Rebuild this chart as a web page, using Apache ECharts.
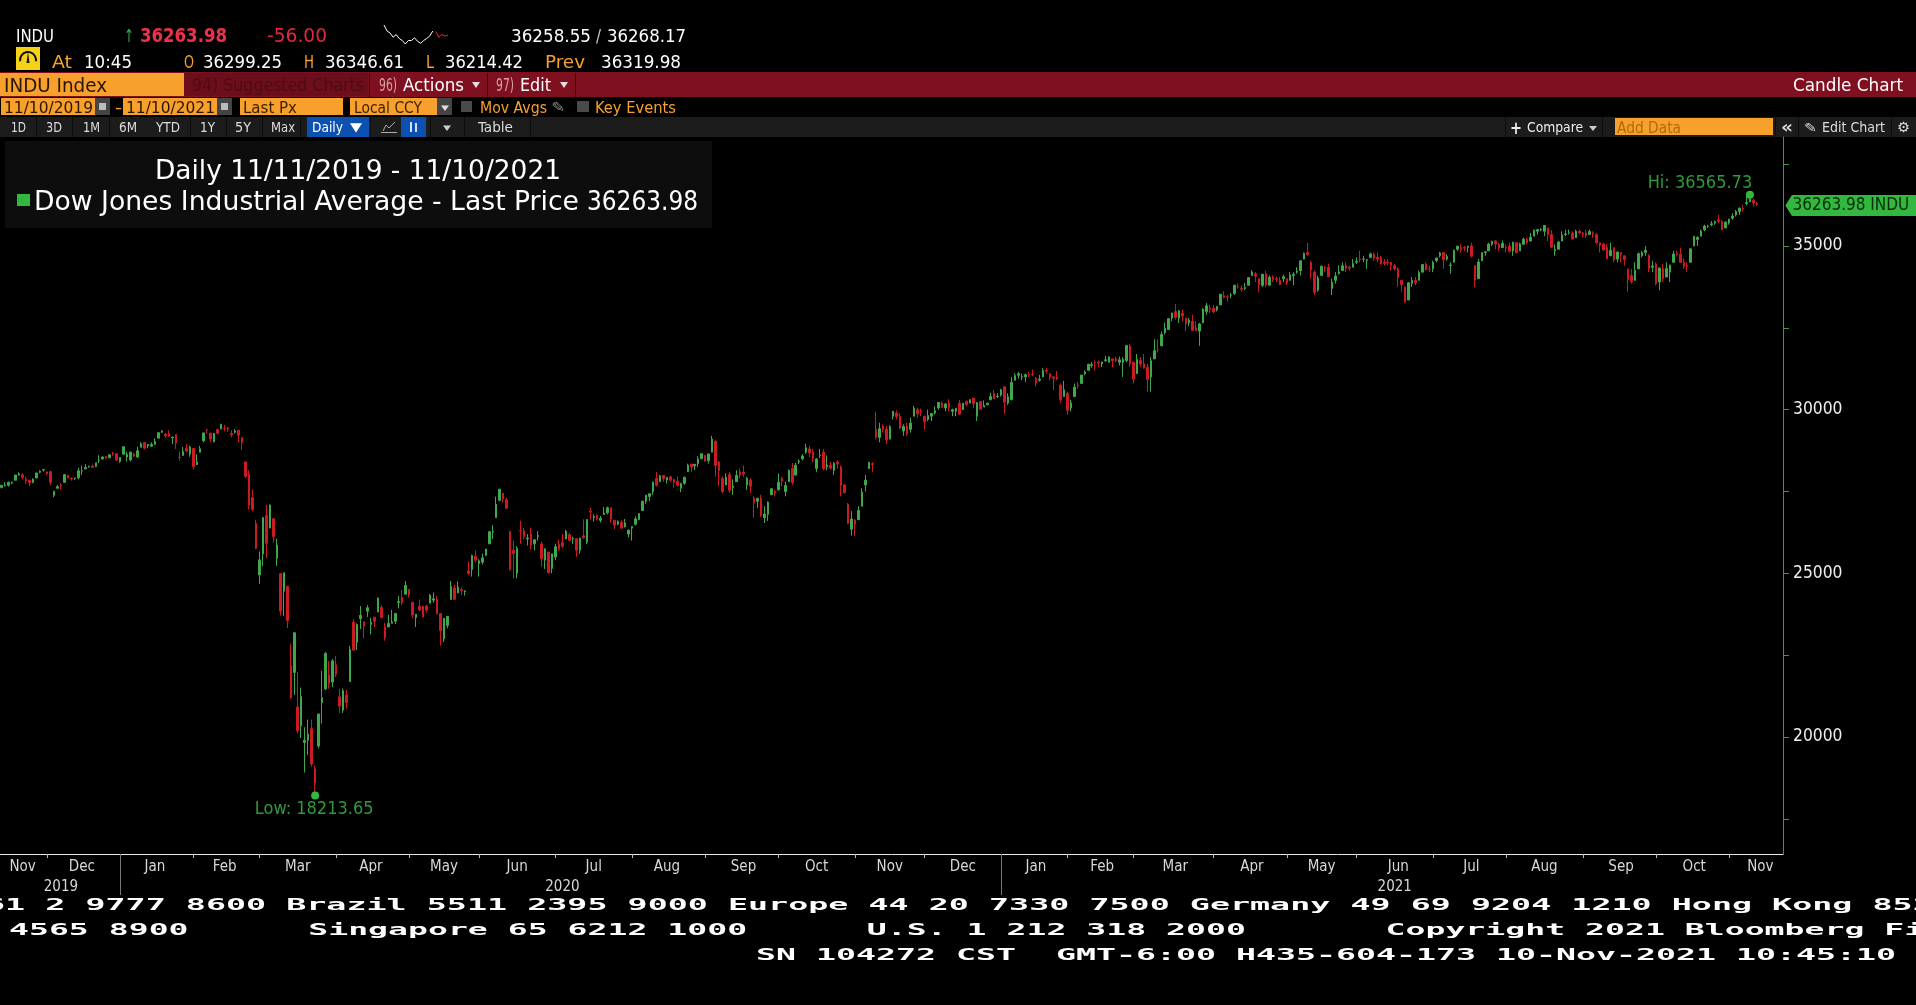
<!DOCTYPE html>
<html><head><meta charset="utf-8">
<style>html,body{margin:0;padding:0;background:#000;overflow:hidden}#c{width:1916px;height:1005px}</style>
<script src="https://cdn.jsdelivr.net/npm/echarts@6/dist/echarts.min.js"></script>
</head><body><div id="c"></div>
<script>
// Daily candles, each row [open, close, low, high]
const nov19=[[27623,27691,27590,27695],[27677,27691,27652,27790],[27692,27783,27650,27800],[27757,27782,27718,27800],[27843,28005,27843,28005],[28000,28036,27990,28090],[28011,27934,27875,28060],[27878,27821,27730,27950],[27843,27766,27672,27860],[27780,27876,27750,27900],[27912,28066,27912,28070],[28084,28121,28060,28145],[28154,28164,28100,28175],[28099,28051,28010,28110]];
const dec19=[[28109,27783,27690,28110],[27384,27502,27325,27520],[27600,27650,27570,27700],[27700,27678,27560,27750],[27780,28015,27780,28030],[27999,27909,27900,28000],[27900,27881,27830,27930],[27900,27911,27850,27930],[27920,28132,27870,28225],[28130,28135,28000,28290],[28191,28235,28191,28337],[28250,28267,28230,28291],[28280,28239,28230,28320],[28260,28377,28260,28377],[28450,28455,28370,28608],[28491,28551,28491,28583],[28572,28515,28500,28576],[28530,28621,28530,28625],[28675,28645,28590,28701],[28654,28462,28420,28665],[28414,28538,28377,28547]];
const jan20=[[28639,28868,28627,28872],[28553,28634,28418,28718],[28465,28703,28420,28709],[28640,28583,28549,28686],[28556,28745,28523,28866],[28851,28957,28851,29010],[29000,28824,28783,29009],[28890,28940,28820,28940],[28885,28940,28860,29000],[28940,29030,28920,29127],[29130,29297,29130,29300],[29313,29348,29290,29374],[29245,29196,29138,29290],[29263,29186,29170,29373],[29141,29160,28950,29175],[29240,28990,28800,29245],[28542,28536,28440,28723],[28600,28723,28596,28860],[28820,28734,28700,28944],[28640,28859,28560,28896],[28813,28256,28170,28813]];
const feb20=[[28319,28399,28319,28630],[28696,28807,28696,28893],[29049,29290,29000,29298],[29389,29379,29273,29408],[29286,29102,29000,29286],[29019,29276,29000,29278],[29390,29276,29248,29416],[29406,29551,29406,29568],[29435,29423,29338,29535],[29440,29398,29315,29463],[29279,29232,29152,29371],[29306,29348,29270,29409],[29369,29219,29000,29377],[29146,28992,28768,29146],[28403,27961,27912,28402],[28023,27081,26958,28149],[27311,26957,26890,27569],[26526,25766,25739,26638],[24950,25409,24681,25670]];
const mar20=[[25591,26703,25219,26706],[26763,25917,25466,27084],[26383,27091,26383,27102],[26671,26121,25943,26671],[25457,25865,25226,26057],[24992,23851,23707,24992],[24453,25018,23691,25020],[24604,23553,23328,24604],[22184,21200,21154,22837],[21973,23186,21285,23189],[20917,20189,20116,21989],[20345,21237,19969,21512],[19830,19899,18917,20300],[19899,20087,19449,20531],[20253,19174,19094,20531],[19029,18592,18213.65,19122],[19722,20705,19650,20705],[21050,21200,20410,22020],[21468,22552,21440,22596],[21898,21637,21470,22327],[21678,22327,21523,22378],[22208,21917,21832,22480]];
const apr20=[[21228,20944,20736,21470],[20820,21413,20735,21477],[21285,21053,20863,21447],[21693,22680,21693,22783],[23512,22654,22634,23603],[22894,23434,22657,23473],[23618,23719,23299,24000],[23520,23391,23018,23520],[23845,23950,23667,24028],[23438,23505,23137,23640],[23662,23538,23358,23662],[23817,24242,23817,24265],[23958,23650,23625,24030],[23361,23019,22941,23489],[23363,23475,23363,23729],[23475,23516,23467,23887],[23536,23775,23450,23775],[24100,24134,23930,24303],[24264,24101,24033,24500],[24360,24634,24360,24765],[24508,24346,24260,24508]];
const may20=[[24120,23724,23645,24120],[23650,23750,23361,23751],[23993,23883,23840,24200],[23991,23664,23660,24016],[23999,23875,23800,24035],[24090,24331,24090,24370],[24180,24221,24100,24420],[24210,23764,23760,24315],[23770,23248,22789,23790],[23000,23625,22900,23630],[23410,23685,23320,23690],[24200,24597,24200,24765],[24550,24206,24180,24653],[24400,24575,24400,24750],[24500,24474,24340,24570],[24440,24465,24320,24480],[25070,24995,24950,25370],[25120,25548,24900,25570],[25520,25401,25330,25700],[25300,25383,24900,25430]];
const jun20=[[25340,25475,25270,25600],[25550,25742,25540,25750],[25900,26270,25900,26300],[26260,26282,26050,26470],[26700,27111,26700,27340],[27230,27572,27200,27580],[27450,27272,27160,27450],[27250,26990,26960,27320],[26280,25128,25080,26280],[25700,25606,24850,26000],[25000,25763,24850,25830],[26300,26290,25900,26610],[26300,26120,26030,26380],[26050,26080,25850,26200],[26200,25871,25730,26400],[25900,26025,25700,26040],[26120,26156,26000,26290],[25900,25445,25200,25970],[25400,25745,25130,25770],[25650,25016,24990,25650],[25150,25596,25000,25600],[25500,25813,25400,25905]];
const jul20=[[25880,25734,25680,26020],[25950,25827,25770,26200],[26050,26287,26050,26330],[26180,26007,26000,26240],[26050,26067,25900,26120],[26060,25706,25500,26080],[25700,26075,25600,26090],[26150,26086,26050,26650],[25950,26643,25890,26650],[26900,26870,26640,27000],[26700,26735,26580,26800],[26770,26672,26620,26800],[26620,26681,26550,26750],[26800,26840,26780,27030],[26850,27005,26800,27040],[27000,26652,26540,27010],[26620,26470,26350,26620],[26500,26585,26470,26620],[26560,26379,26370,26620],[26420,26539,26400,26660],[26200,26313,26100,26350],[26380,26428,26000,26440]];
const aug20=[[26500,26664,26460,26740],[26640,26828,26640,26830],[26920,27201,26920,27220],[27200,27387,27120,27400],[27350,27433,27200,27440],[27500,27791,27400,27800],[27900,27687,27650,28100],[27800,27977,27800,28000],[27990,27896,27800,28000],[27850,27931,27750,27940],[27950,27844,27800,27970],[27870,27778,27620,27880],[27810,27692,27650,27960],[27600,27739,27480,27770],[27750,27930,27700,27960],[28100,28308,28100,28350],[28340,28248,28100,28340],[28280,28331,28150,28340],[28350,28492,28250,28580],[28500,28654,28500,28660],[28600,28430,28410,28620]];
const sep20=[[28440,28646,28350,28660],[28700,29100,28700,29200],[29040,28293,27950,29060],[28400,28133,27660,28430],[27900,27501,27450,27950],[27700,27940,27700,28060],[28020,27535,27460,28100],[27620,27666,27400,27870],[27800,27994,27800,28150],[28100,27996,27900,28200],[28080,28033,27950,28290],[27700,27902,27550,27950],[27850,27657,27450,27900],[27300,27148,26700,27350],[27200,27289,27000,27310],[27300,26763,26720,27400],[26700,26815,26540,27050],[26800,27174,26600,27200],[27400,27584,27400,27600],[27500,27453,27350,27560],[27550,27782,27530,28050]];
const oct20=[[27900,27817,27650,27950],[27500,27683,27350,27800],[27800,28149,27800,28170],[28200,27773,27700,28370],[28000,28304,28000,28370],[28400,28426,28340,28480],[28500,28587,28450,28640],[28700,28838,28650,28960],[28800,28680,28550,28900],[28700,28514,28400,28800],[28200,28494,28100,28520],[28600,28607,28520,28800],[28700,28196,28150,28800],[28250,28309,28150,28600],[28300,28211,28170,28400],[28150,28364,28000,28400],[28400,28336,28200,28450],[28250,27686,27350,28300],[27700,27463,27430,27730],[27100,26520,26500,27150],[26350,26660,26150,26900],[26630,26502,26143,26650]];
const nov20=[[26640,26925,26640,27050],[27050,27481,27050,27600],[27700,27848,27500,28000],[28200,28390,28200,28400],[28350,28323,28100,28400],[29400,29158,29100,29933],[29150,29421,29000,29600],[29500,29398,29300,29550],[29400,29080,28950,29500],[29100,29480,29100,29530],[29800,29950,29700,29960],[29900,29784,29700,29980],[29800,29438,29400,29900],[29350,29483,29200,29550],[29500,29263,29200,29600],[29400,29591,29300,29750],[29800,30046,29800,30116],[30000,29872,29750,30060],[29950,29910,29800,30030],[29800,29639,29400,29800]];
const dec20=[[29700,29823,29650,30000],[29800,29883,29650,29900],[29900,29969,29850,30100],[30050,30218,30000,30220],[30200,30070,30050,30250],[30050,30174,29950,30200],[30200,30068,29950,30320],[29950,29999,29800,30030],[29950,30046,29800,30050],[30200,29861,29850,30300],[30000,30199,30000,30200],[30250,30154,30100,30280],[30200,30303,30200,30320],[30350,30179,30050,30350],[29800,30216,29650,30230],[30250,30015,30000,30260],[30080,30129,30080,30280],[30150,30199,30130,30210],[30300,30403,30300,30520],[30500,30335,30320,30600],[30400,30409,30350,30500],[30450,30606,30400,30640]];
const jan21=[[30700,30223,29880,30700],[30200,30392,30150,30500],[30300,30829,30300,31000],[30900,31041,30900,31110],[31050,31098,30950,31150],[31000,31009,30900,31100],[31000,31068,30850,31100],[31080,31061,31000,31150],[31080,31060,31020,31220],[30950,30814,30700,31000],[30900,30930,30850,31060],[31000,31188,31000,31270],[31200,31176,31100,31280],[31100,30997,30900,31100],[31000,30960,30600,31030],[31000,30937,30900,31180],[30750,30303,30200,30800],[30400,30603,30400,30880],[30500,29983,29850,30550]];
const feb21=[[30050,30212,29950,30300],[30400,30688,30400,30800],[30750,30724,30650,30850],[30800,31056,30800,31060],[31100,31148,31050,31200],[31200,31386,31180,31400],[31350,31375,31280,31450],[31450,31438,31200,31500],[31450,31431,31300,31500],[31400,31458,31300,31460],[31500,31523,31450,31640],[31450,31613,31450,31620],[31550,31494,31300,31560],[31550,31494,31450,31620],[31450,31522,31350,31620],[31450,31537,31000,31600],[31500,31961,31450,31980],[31950,31402,31300,32010],[31450,30932,30800,31450]];
const mar21=[[31100,31535,31100,31700],[31500,31391,31300,31600],[31400,31270,31250,31700],[31300,30924,30550,31400],[31000,31496,30550,31600],[31550,31802,31550,32150],[31850,31833,31750,32150],[31950,32297,31950,32390],[32350,32486,32300,32660],[32450,32779,32450,32800],[32800,32953,32700,32960],[33000,32825,32750,33230],[32800,33015,32650,33050],[32950,32862,32700,33050],[32800,32628,32400,32800],[32650,32731,32550,32800],[32700,32423,32400,32900],[32500,32420,32400,32700],[32400,32619,31950,32650],[32650,33072,32650,33100],[33000,33171,32900,33260],[33100,33067,32950,33200],[33100,32982,32950,33200]];
const apr21=[[33050,33153,33000,33170],[33200,33527,33200,33530],[33480,33430,33400,33620],[33450,33446,33300,33500],[33500,33503,33400,33560],[33550,33801,33500,33810],[33750,33746,33700,33850],[33700,33677,33600,33800],[33700,33730,33650,33870],[33800,34036,33800,34040],[34100,34201,34100,34260],[34150,34078,33900,34200],[34000,33821,33600,34000],[33800,34137,33750,34140],[34150,33815,33750,34250],[33800,34043,33800,34100],[34050,33981,33900,34100],[34000,33984,33900,34070],[33950,33820,33800,34050],[34000,34060,33900,34120],[34000,33875,33800,34000]];
const may21=[[33950,34113,33950,34200],[34100,34133,33800,34200],[34200,34230,34150,34350],[34250,34548,34100,34550],[34600,34778,34600,34800],[34800,34743,34700,35091],[34500,34269,34000,34550],[34200,33587,33500,34250],[33650,34022,33600,34100],[34100,34382,34100,34400],[34350,34327,34200,34400],[34350,34060,34050,34450],[33700,33896,33500,34000],[33950,34084,33850,34200],[34150,34208,34130,34400],[34250,34394,34250,34500],[34400,34312,34200,34500],[34350,34323,34250,34400],[34350,34465,34350,34600],[34500,34529,34450,34650]];
const jun21=[[34600,34575,34500,34850],[34600,34600,34500,34700],[34550,34577,34300,34600],[34650,34756,34650,34800],[34750,34630,34550,34800],[34650,34600,34500,34800],[34650,34447,34430,34700],[34500,34466,34400,34600],[34500,34480,34400,34600],[34500,34394,34250,34500],[34400,34300,34250,34450],[34300,34033,33750,34350],[33950,33823,33600,33950],[33750,33290,33270,33750],[33350,33877,33350,33900],[33850,33945,33750,34050],[33950,33874,33800,34050],[33950,34196,33950,34250],[34200,34433,34200,34450],[34450,34283,34250,34500],[34300,34292,34200,34400],[34300,34503,34200,34550]];
const jul21=[[34550,34633,34500,34650],[34700,34786,34650,34820],[34800,34577,34300,34800],[34600,34681,34550,34750],[34400,34422,34150,34500],[34500,34870,34500,34890],[34900,34996,34850,35000],[34950,34889,34800,35050],[34950,34933,34850,35000],[34950,34987,34800,35010],[35000,34688,34650,35100],[34400,33962,33740,34400],[34000,34512,34000,34600],[34550,34798,34550,34800],[34800,34823,34700,34850],[34850,35061,34850,35100],[35050,35144,35000,35150],[35150,35058,34900,35180],[35050,34930,34850,35100],[34950,35085,34950,35170],[34950,34935,34800,35050]];
const aug21=[[35000,34838,34800,35100],[34850,35116,34700,35130],[35100,34793,34780,35100],[34850,35064,34850,35100],[35050,35209,35050,35250],[35200,35102,35050,35250],[35150,35265,35150,35400],[35300,35484,35300,35500],[35450,35500,35350,35520],[35500,35516,35450,35540],[35450,35625,35300,35630],[35550,35343,35150,35550],[35350,34961,34950,35480],[34850,34894,34700,35050],[34900,35120,34900,35150],[35150,35336,35150,35450],[35350,35367,35300,35500],[35400,35405,35350,35500],[35400,35213,35200,35450],[35250,35456,35250,35500],[35450,35400,35350,35500],[35400,35361,35250,35420]];
const sep21=[[35400,35313,35250,35500],[35350,35444,35350,35500],[35400,35369,35250,35450],[35350,35100,35050,35400],[35100,35031,34800,35100],[35050,34879,34850,35100],[34950,34607,34600,35050],[34700,34870,34700,35100],[34950,34578,34500,34950],[34600,34814,34500,34830],[34800,34751,34500,34800],[34700,34584,34400,34700],[34300,33970,33600,34300],[34100,33919,33850,34300],[33950,34258,33950,34500],[34300,34765,34300,34800],[34700,34798,34650,34850],[34800,34870,34700,35000],[34700,34299,34200,34750],[34350,34390,34200,34550],[34450,33844,33800,34500]];
const oct21=[[33900,34326,33650,34350],[34300,34003,33900,34450],[34050,34315,34050,34500],[34200,34417,33900,34430],[34500,34755,34500,34850],[34780,34746,34680,34850],[34750,34496,34480,34950],[34500,34378,34300,34620],[34400,34377,34200,34500],[34500,34912,34500,34930],[35000,35295,35000,35300],[35200,35258,35000,35300],[35300,35457,35300,35500],[35500,35610,35450,35650],[35600,35603,35550,35650],[35650,35677,35600,35760],[35700,35741,35650,35780],[35800,35757,35700,35950],[35750,35491,35480,35800],[35550,35731,35550,35750],[35700,35820,35650,35830]];
const nov21=[[35850,35913,35800,36000],[35950,36053,35900,36100],[36050,36158,35950,36170],[36150,36125,36050,36250],[36300,36328,36250,36500],[36350,36432,36350,36565.73],[36400,36320,36200,36450],[36299.25,36263.98,36214.42,36346.61]];

const monthRows=[nov19,dec19,jan20,feb20,mar20,apr20,may20,jun20,jul20,aug20,sep20,oct20,nov20,dec20,jan21,feb21,mar21,apr21,may21,jun21,jul21,aug21,sep21,oct21,nov21];
const monthNames=['Nov','Dec','Jan','Feb','Mar','Apr','May','Jun','Jul','Aug','Sep','Oct','Nov','Dec','Jan','Feb','Mar','Apr','May','Jun','Jul','Aug','Sep','Oct','Nov'];
const monthLabelDay=[6,9,9,8,10,9,9,10,10,9,10,10,9,10,9,9,11,10,9,11,10,10,10,10,8];
const yearTexts=['2019','2020','2021'];
const yearLabelIndex=[17,161,400];
const yearStartIndex=[34,287];
const lastPrice=36263.98, hiPrice=36565.73, loPrice=18213.65;
const yLabelValues=[20000,25000,30000,35000];
const yTickValues=[17500,20000,22500,25000,27500,30000,32500,35000,37500];
const sparkWhite=[36346,36304,36290,36261,36280,36252,36238,36214,36238,36238,36257,36233,36219,36238,36252,36269,36304];
const sparkRed=[36300,36261,36280,36269,36276];

const candles=[], cats=[], monthStart=new Set(), labelIdx=new Map();
monthRows.forEach((rows,m)=>{
  if(m>0) monthStart.add(candles.length-1);
  labelIdx.set(candles.length+monthLabelDay[m], monthNames[m]);
  rows.forEach((r,d)=>{candles.push(r);cats.push(monthNames[m]+'-'+m+'-'+d);});
});
const lastIdx=candles.length-1;
const hiIdx=candles.findIndex(r=>r[3]===hiPrice), loIdx=candles.findIndex(r=>r[2]===loPrice);
for(let i=0;i<7;i++) cats.push('pad-'+i);

const FONT='"DejaVu Sans Condensed","DejaVu Sans"';
const MONO='"DejaVu Sans Mono"';
const GREEN='#33b83f', LABELGREEN='#2f9a3c', UP='#3fa84a', DOWN='#cc1a22';
const ORANGE='#f7a02c', BAND='#7f1020', ROW='#1c1c1c';

const mc=document.createElement('canvas').getContext('2d');
const els=[];
function rect(x,y,w,h,fill){els.push({type:'rect',shape:{x,y,width:w,height:h},style:{fill},silent:true});}
function t(s,x0,x1,yc,size,fill,font,weight){
  font=font||FONT;
  const f=(weight?weight+' ':'')+size+'px '+font;
  mc.font=f;
  const sx=x1==null?1:(x1-x0)/mc.measureText(s).width;
  els.push({type:'text',x:x0,y:yc+size*0.11,scaleX:sx,silent:true,style:{text:s,font:f,fill,textAlign:'left',textVerticalAlign:'middle'}});
}
function poly(points,fill,stroke){els.push({type:stroke?'polyline':'polygon',shape:{points},style:stroke?{stroke,fill:null,lineWidth:1}:{fill},silent:true});}

// header row 1
t('INDU',16,54,35,18,'#fff');
t('↑',124,134,35,18,'#38a845');
t('36263.98',140,227,35,19,'#f0304a',null,'bold');
t('-56.00',267,327,35,19,'#e0283f');
t('36258.55',511,591,35,18,'#fff');
t('/',596,601,35,18,'#ccc');
t('36268.17',607,686,35,18,'#fff');
// header row 2
rect(16,47,24,23,'#f5d215');
els.push({type:'arc',shape:{cx:28,cy:60,r:8,startAngle:Math.PI*0.95,endAngle:Math.PI*0.05,clockwise:true},style:{stroke:'#111',fill:null,lineWidth:2},silent:true});
poly([[28,52],[29.5,63],[26.5,63]],'#111');
t('At',52,72,61,18,ORANGE);
t('10:45',84,132,61,18,'#fff');
t('O',184,194,61,18,ORANGE);
t('36299.25',203,282,61,18,'#fff');
t('H',304,314,61,18,ORANGE);
t('36346.61',325,404,61,18,'#fff');
t('L',426,434,61,18,ORANGE);
t('36214.42',445,523,61,18,'#fff');
t('Prev',545,585,61,18,ORANGE);
t('36319.98',601,681,61,18,'#fff');
// header row 3
rect(0,72,1916,25,BAND);
rect(0,73,184,23,ORANGE);
t('INDU Index',4,107,85,19,'#2a1500');
rect(184,73,184,23,'#6c0e1b');
t('94) Suggested Charts',192,364,84,18,'#4d0c16');
rect(369,73,1,24,'#3a060d');rect(487,73,1,24,'#3a060d');rect(575,73,1,24,'#3a060d');
t('96)',379,397,84,18,'#d6a0a8');
t('Actions',403,464,84,18,'#fff');
t('▾',472,480,84,12,'#ddd');
t('97)',496,514,84,18,'#d6a0a8');
t('Edit',520,551,84,18,'#fff');
t('▾',560,568,84,12,'#ddd');
t('Candle Chart',1793,1903,84,18,'#fff');
// header row 4
rect(1,98,94,17,ORANGE);
t('11/10/2019',4,93,107,15,'#2a1500');
rect(95,98,15,17,'#444');rect(99,103,7,7,'#bbb');
t('-',115,122,107,15,ORANGE);
rect(123,98,94,17,ORANGE);
t('11/10/2021',126,215,107,15,'#2a1500');
rect(217,98,15,17,'#444');rect(221,103,7,7,'#bbb');
rect(240,98,103,17,ORANGE);
t('Last Px',243,297,107,15,'#3a1d00');
rect(350,98,87,17,ORANGE);
t('Local CCY',354,422,107,15,'#3a1d00');
rect(437,98,15,17,'#444');t('▾',441,449,107,11,'#ddd');
rect(461,101,11,11,'#4a4a4a');
t('Mov Avgs',480,547,107,15,ORANGE);
t('✎',551,565,107,14,'#888');
rect(577,101,12,11,'#4a4a4a');
t('Key Events',595,676,107,15,ORANGE);
// header row 5
rect(0,117,1916,20,ROW);
[['1D',11,26],['3D',46,62],['1M',83,100],['6M',119,137],['YTD',156,180],['1Y',200,215],['5Y',235,251],['Max',271,295]].forEach(a=>t(a[0],a[1],a[2],127,14,'#ddd'));
[36,72,109,190,226,262,300,370,430,464,530].forEach(x=>rect(x,117,1,20,'#0d0d0d'));
rect(307,117,62,20,'#0c50b0');
t('Daily',312,343,127,14.5,'#fff');
t('▼',350,362,127,12,'#fff');
poly([[383,131],[386,125],[389,128],[395,122]],null,'#aaa');
rect(381,132,16,1,'#aaa');
rect(401,117,25,20,'#0c50b0');
rect(410,122,2,10,'#cfe0ff');rect(415,123,2,9,'#cfe0ff');
t('▾',443,451,127,11,'#ccc');
t('Table',478,513,127,14.5,'#ddd');
rect(1505,117,1,20,'#0d0d0d');rect(1602,117,1,20,'#0d0d0d');
t('+',1510,1522,127,18,'#eee',null,'bold');
t('Compare',1527,1583,127,14,'#eee');
t('▾',1589,1597,127,10,'#ccc');
rect(1615,118,158,17,ORANGE);
t('Add Data',1617,1681,127,15,'#b06a10');
t('«',1781,1793,126,18,'#ddd',null,'bold');
rect(1775,117,1,20,'#0d0d0d');rect(1798,117,1,20,'#0d0d0d');rect(1891,117,1,20,'#0d0d0d');
t('✎',1804,1817,127,13,'#ddd');
t('Edit Chart',1822,1885,127,14,'#ddd');
t('⚙',1897,1910,127,14,'#ddd');
// legend box
rect(5,141,707,87,'#0d0d0d');
t('Daily 11/11/2019 - 11/10/2021',155,561,169,27,'#fff');
rect(17,194,13,12,GREEN);
t('Dow Jones Industrial Average - Last Price',34,579,200,27,'#fff');
t('36263.98',587,698,200,27,'#fff');
// contact lines at the bottom
const contact=[
 ['61 2 9777 8600 Brazil 5511 2395 9000 Europe 44 20 7330 7500 Germany 49 69 9204 1210 Hong Kong 852',-15,904,20.08],
 ['4565 8900      Singapore 65 6212 1000      U.S. 1 212 318 2000       Copyright 2021 Bloomberg Finance L.P.',9,929,19.95],
 ['SN 104272 CST  GMT-6:00 H435-604-173 10-Nov-2021 10:45:10',756,954,20.0]];
contact.forEach(c=>t(c[0],c[1],c[1]+c[0].length*c[3],c[2],16.5,'#fff',MONO,'bold'));

const sparkCats=sparkWhite.concat(sparkRed).map((_,i)=>'s'+i);
const nulls=n=>new Array(n).fill(null);

const chart=echarts.init(document.getElementById('c'),null,{renderer:'canvas'});
chart.setOption({
  animation:false,backgroundColor:'#000',
  grid:[
    {left:-3.5,top:137,width:1786.5,height:717,containLabel:false},
    {left:384,top:25,width:64,height:19}
  ],
  xAxis:[
    {type:'category',gridIndex:0,data:cats,position:'bottom',boundaryGap:true,
     axisLine:{show:true,lineStyle:{color:'#e8e8e8',width:1}},
     axisTick:{show:true,alignWithLabel:true,length:4,lineStyle:{color:'#bbb'},interval:i=>monthStart.has(i)},
     axisLabel:{show:true,interval:i=>labelIdx.has(i),formatter:(v,i)=>labelIdx.get(i)||'',color:'#d8d8d8',fontFamily:FONT,fontSize:15,margin:6},
     splitLine:{show:false}},
    {type:'category',gridIndex:0,data:cats,position:'bottom',boundaryGap:true,
     axisLine:{show:false},
     axisTick:{show:true,alignWithLabel:true,length:41,lineStyle:{color:'#777'},interval:i=>yearStartIndex.includes(i)},
     axisLabel:{show:true,interval:i=>yearLabelIndex.includes(i),formatter:(v,i)=>yearTexts[yearLabelIndex.indexOf(i)]||'',color:'#d8d8d8',fontFamily:FONT,fontSize:15,margin:26},
     splitLine:{show:false}},
    {type:'category',gridIndex:1,data:sparkCats,boundaryGap:false,show:false}
  ],
  yAxis:[
    {type:'value',gridIndex:0,position:'right',min:16426,max:38329,scale:true,
     axisLine:{show:true,lineStyle:{color:'#3a9a44',width:1}},
     axisTick:{show:true,length:6,lineStyle:{color:'#3a9a44'},customValues:yTickValues},
     axisLabel:{show:true,color:'#eee',fontFamily:FONT,fontSize:17.3,margin:10,padding:[4,0,0,0],customValues:yLabelValues,formatter:v=>String(v)},
     splitLine:{show:false}},
    {type:'value',gridIndex:1,min:36214,max:36346,show:false}
  ],
  series:[
    {type:'candlestick',name:'Dow Jones Industrial Average',xAxisIndex:0,yAxisIndex:0,data:candles,barWidth:2,
     itemStyle:{color:UP,color0:DOWN,borderColor:UP,borderColor0:DOWN,borderWidth:1},
     markPoint:{animation:false,silent:true,data:[
       {coord:[cats[hiIdx],hiPrice],symbol:'circle',symbolSize:8,itemStyle:{color:GREEN},
        label:{show:true,formatter:'Hi: '+hiPrice.toFixed(2),position:'top',offset:[-50,7],color:LABELGREEN,fontFamily:FONT,fontSize:18}},
       {coord:[cats[loIdx],loPrice],symbol:'circle',symbolSize:8,itemStyle:{color:GREEN},
        label:{show:true,formatter:'Low: '+loPrice.toFixed(2),position:'bottom',offset:[-1,-4],color:LABELGREEN,fontFamily:FONT,fontSize:18}},
       {coord:[cats[lastIdx],lastPrice],symbol:'path://M0 50 L5 0 L100 0 L100 100 L5 100 Z',symbolSize:[131,21],symbolKeepAspect:false,symbolOffset:[94,1],itemStyle:{color:GREEN},
        label:{show:true,position:'inside',formatter:lastPrice.toFixed(2)+' INDU',color:'#0a2a0a',fontFamily:FONT,fontSize:17}}
     ]}},
    {type:'line',xAxisIndex:2,yAxisIndex:1,data:sparkWhite.concat(nulls(sparkRed.length)),symbol:'none',lineStyle:{color:'#fff',width:1},silent:true},
    {type:'line',xAxisIndex:2,yAxisIndex:1,data:nulls(sparkWhite.length).concat(sparkRed),symbol:'none',lineStyle:{color:'#e8283c',width:1},silent:true}
  ],
  graphic:{elements:els}
});
</script></body></html>
